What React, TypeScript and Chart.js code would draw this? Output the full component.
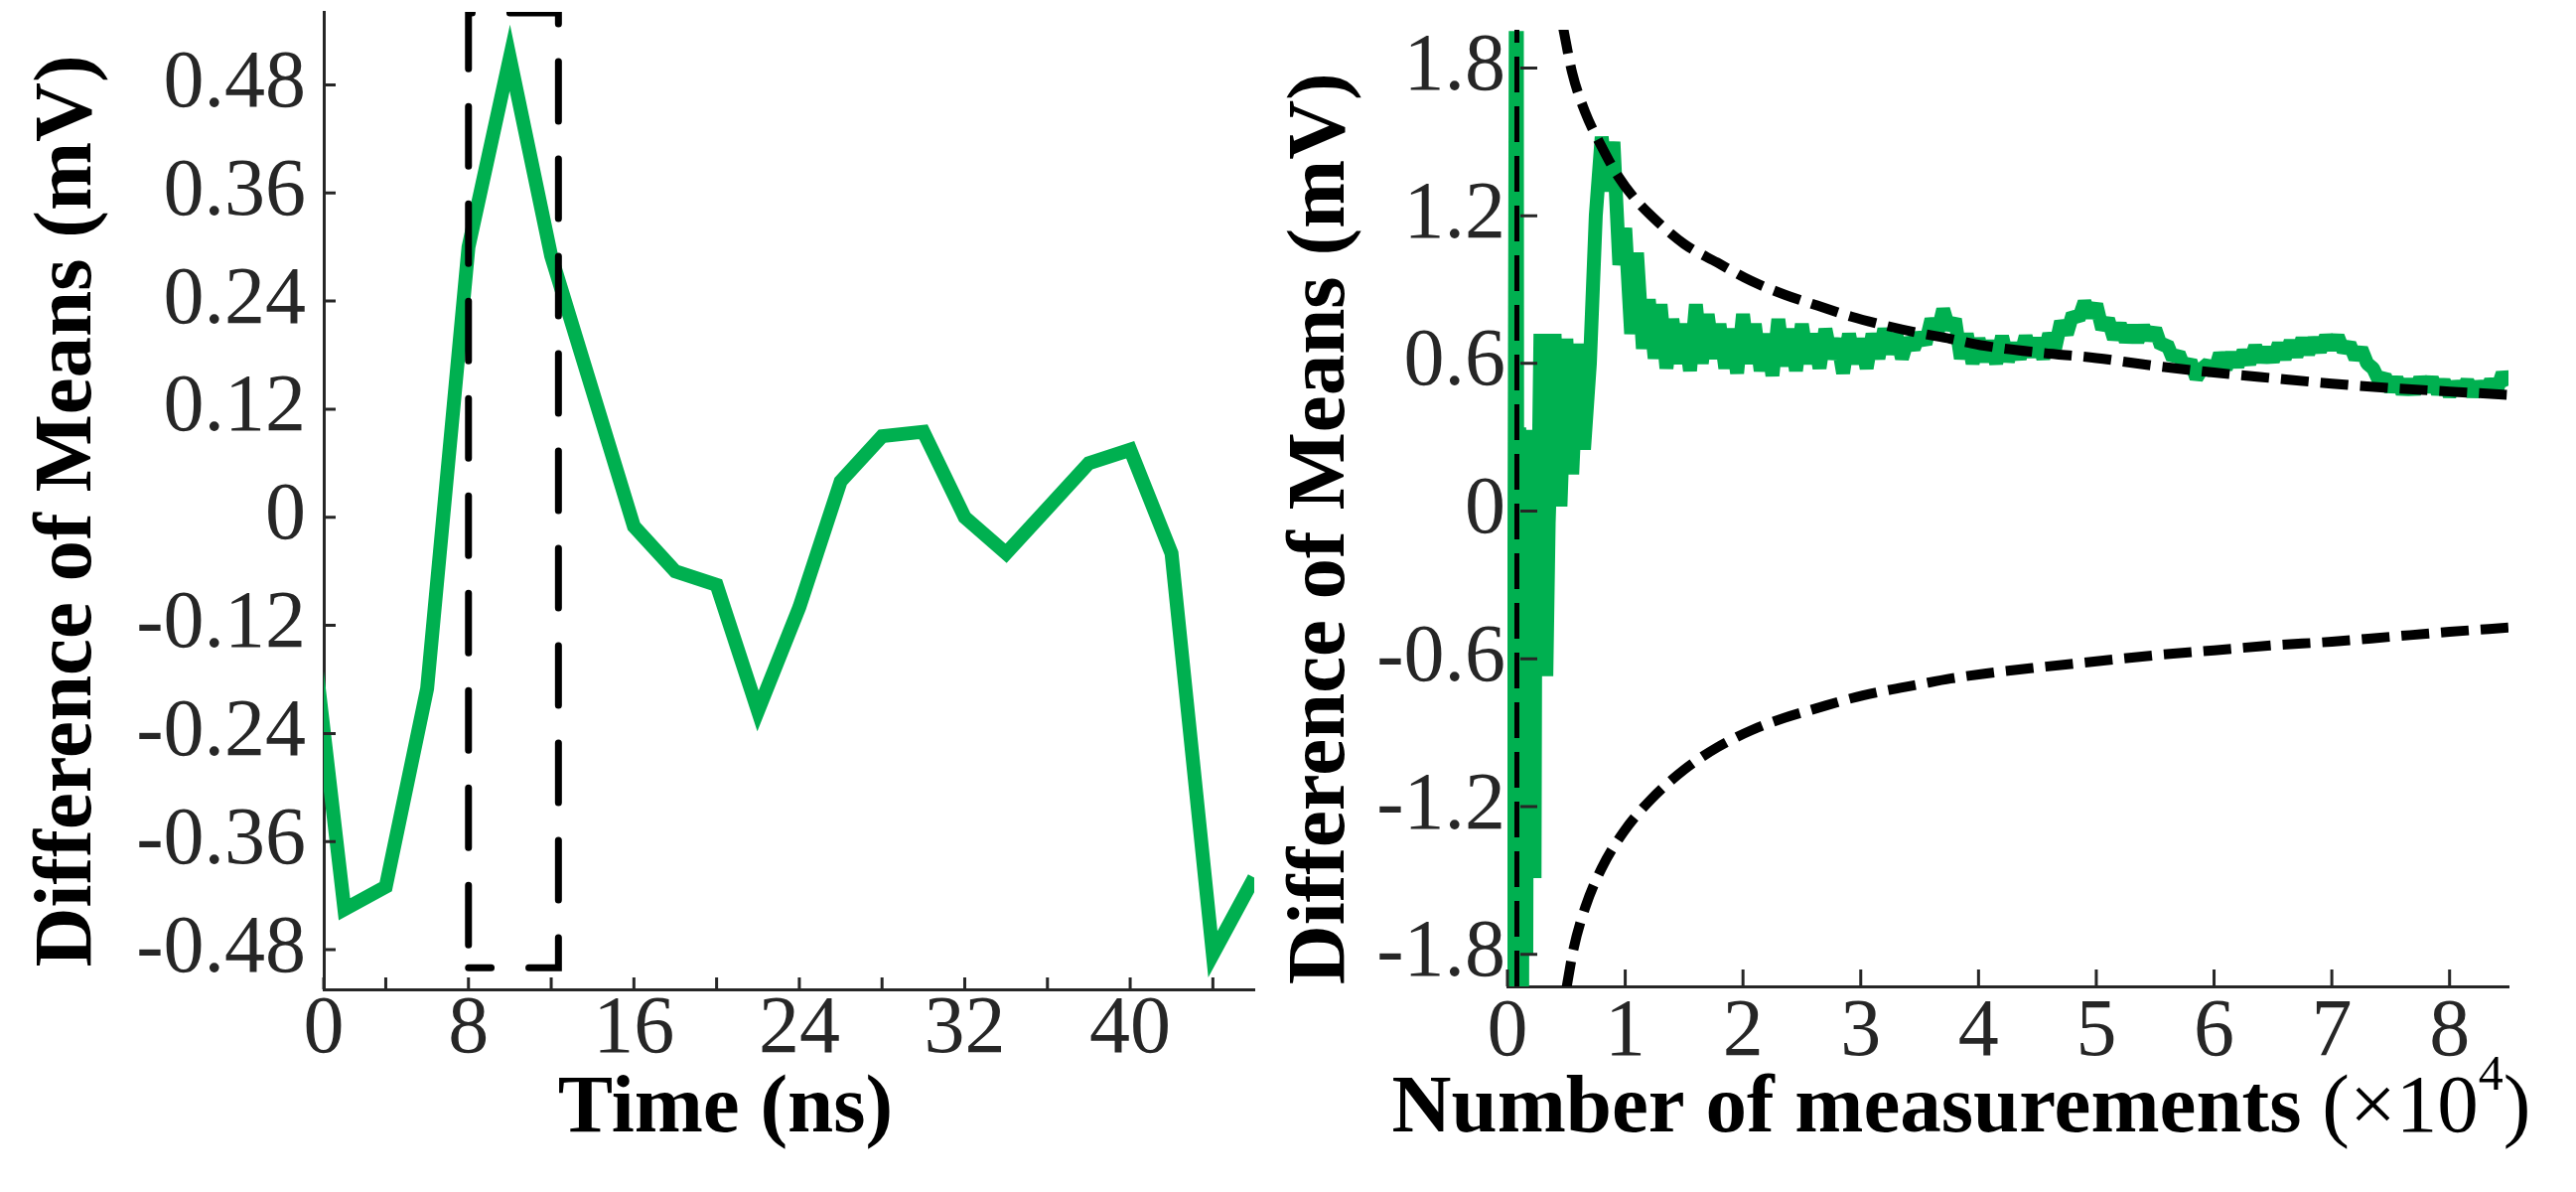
import { useEffect, useRef } from "react";
import { Chart, registerables } from "chart.js";

Chart.register(...registerables);

const SERIF = "'Liberation Serif', 'Times New Roman', Times, serif";
const GREEN = "#00B050";
const AXIS = "#262626";

// ---- left panel: difference of means vs time
const timeNs = [0, 2, 4, 6, 8, 10, 12, 14, 16, 18, 20, 22, 24, 26, 28, 30, 32, 34, 36, 38, 40, 42, 44, 46];
const timeDiff = [
  -0.04, -0.435, -0.41, -0.19, 0.3, 0.51, 0.29, 0.14, -0.01, -0.06, -0.075, -0.215,
  -0.1, 0.04, 0.09, 0.095, 0.0, -0.04, 0.01, 0.06, 0.075, -0.04, -0.485, -0.4,
];
const timeTicks = [1, 4, 8, 12, 16, 20, 24, 28, 32, 36, 40, 44];
const timeTickLabels = ["0", "", "8", "", "16", "", "24", "", "32", "", "40", ""];
const timeDiffTicks = [-0.48, -0.36, -0.24, -0.12, 0, 0.12, 0.24, 0.36, 0.48];
const timeDiffLabels = ["-0.48", "-0.36", "-0.24", "-0.12", "0", "0.12", "0.24", "0.36", "0.48"];
// dashed window around the peak
const windowX = [8, 8, 12.35, 12.35, 8];
const windowY = [-0.5, 0.56, 0.56, -0.5, -0.5];

// ---- right panel: difference of means vs number of measurements (x10^4)
const earlyX = [
  0, 0.05, 0.07, 0.075, 0.08, 0.085, 0.09, 0.1, 0.11, 0.12,
  0.125, 0.13, 0.14, 0.15, 0.16, 0.17, 0.18, 0.2, 0.21, 0.22,
  0.23, 0.24, 0.25, 0.27, 0.28, 0.3, 0.31, 0.33,
];
const earlyY = [
  -1.9, -1.9, 1.95, -1.93, 1.95, -1.93, -0.2, 0.34, -0.45, 0.3,
  -1.93, 0.32, -0.4, 0.33, -1.8, 0.3, -0.45, 0.33, -0.4, 0.32,
  -1.49, 0.3, -0.45, 0.35, 0.72, -0.55, 0.72, -0.67,
];
// sampled every 0.05 from 0.35 to 8.5
const mainStart = 0.35;
const mainStep = 0.05;
const mainY = [
  -0.05, 0.72, 0.02, 0.7, 0.15, 0.68, 0.25, 0.6, 1.2, 1.52,
  1.3, 1.5, 1.0, 1.15, 0.72, 1.05, 0.66, 0.86, 0.62, 0.84,
  0.58, 0.78, 0.6, 0.76, 0.57, 0.84, 0.6, 0.8, 0.62, 0.76,
  0.58, 0.74, 0.56, 0.8, 0.6, 0.76, 0.57, 0.72, 0.55, 0.78,
  0.59, 0.74, 0.57, 0.76, 0.6, 0.72, 0.58, 0.74, 0.62, 0.7,
  0.56, 0.72, 0.6, 0.7, 0.58, 0.72, 0.62, 0.74, 0.64, 0.72,
  0.62, 0.7, 0.66, 0.72, 0.68, 0.78, 0.72, 0.82, 0.74, 0.78,
  0.62, 0.72, 0.6, 0.7, 0.61, 0.69, 0.6, 0.71, 0.61, 0.68,
  0.62, 0.71, 0.63, 0.7, 0.62, 0.72, 0.66, 0.77, 0.72, 0.8,
  0.78, 0.85, 0.79, 0.84, 0.74, 0.78, 0.7, 0.76, 0.69, 0.75,
  0.69, 0.75, 0.7, 0.74, 0.67, 0.68, 0.62, 0.64, 0.58, 0.61,
  0.54, 0.58, 0.6, 0.56, 0.64, 0.58, 0.64, 0.59, 0.65, 0.6,
  0.67, 0.61, 0.66, 0.61, 0.68, 0.62, 0.69, 0.63, 0.7, 0.64,
  0.7, 0.65, 0.71, 0.66, 0.71, 0.65, 0.68, 0.62, 0.66, 0.6,
  0.58, 0.53, 0.55, 0.49, 0.54, 0.48, 0.53, 0.48, 0.54, 0.49,
  0.54, 0.48, 0.53, 0.47, 0.52, 0.48, 0.53, 0.47, 0.52, 0.48,
  0.53, 0.49, 0.56, 0.51,
];
const upperX = [0.47, 0.55, 0.66, 0.8, 0.94, 1.08, 1.22, 1.5, 1.78, 2.07, 2.35, 2.63, 2.92, 3.2, 3.48, 3.76, 4.05, 4.5, 5.0, 5.5, 6.0, 6.5, 7.0, 7.5, 8.0, 8.5];
const upperY = [1.97, 1.78, 1.62, 1.48, 1.36, 1.27, 1.2, 1.085, 1.01, 0.935, 0.88, 0.835, 0.79, 0.755, 0.725, 0.7, 0.672, 0.645, 0.622, 0.59, 0.563, 0.54, 0.518, 0.5, 0.486, 0.472];
const lowerX = [0.5, 0.56, 0.66, 0.8, 0.99, 1.22, 1.5, 1.78, 2.07, 2.35, 2.63, 2.92, 3.2, 3.48, 3.76, 4.05, 4.5, 5.0, 5.5, 6.0, 6.5, 7.0, 7.5, 8.0, 8.5];
const lowerY = [-1.94, -1.78, -1.61, -1.45, -1.3, -1.17, -1.05, -0.96, -0.89, -0.84, -0.8, -0.76, -0.73, -0.705, -0.68, -0.66, -0.635, -0.61, -0.585, -0.565, -0.545, -0.53, -0.51, -0.49, -0.473];
const originX = [0.08, 0.08];
const originY = [-1.93, 1.955];
const countTicks = [0, 1, 2, 3, 4, 5, 6, 7, 8];
const countTickLabels = ["0", "1", "2", "3", "4", "5", "6", "7", "8"];
const countDiffTicks = [-1.8, -1.2, -0.6, 0, 0.6, 1.2, 1.8];
const countDiffLabels = ["-1.8", "-1.2", "-0.6", "0", "0.6", "1.2", "1.8"];

const pts = (xs: number[], ys: number[]) => xs.map((x, i) => ({ x, y: ys[i] }));

// MATLAB-style tick marks pointing into the plot
const makeInwardTicks = (xLen: number, yLen: number, yOffset: number) => ({
  id: "inwardTicks",
  afterDraw(chart: any) {
    const { ctx, chartArea } = chart;
    const xs = chart.scales.x;
    const ys = chart.scales.y;
    ctx.save();
    ctx.strokeStyle = AXIS;
    ctx.lineWidth = 3;
    ctx.beginPath();
    xs.ticks.forEach((t: any) => {
      const px = xs.getPixelForValue(t.value);
      ctx.moveTo(px, chartArea.bottom);
      ctx.lineTo(px, chartArea.bottom - xLen);
    });
    ys.ticks.forEach((t: any) => {
      const py = ys.getPixelForValue(t.value);
      ctx.moveTo(chartArea.left + yOffset, py);
      ctx.lineTo(chartArea.left + yOffset + yLen, py);
    });
    ctx.stroke();
    ctx.restore();
  },
});

// x-axis title drawn as runs so that weights and the superscript can differ
type Run = { text: string; weight: string; size: number; rise?: number };
const makeXTitle = (runs: Run[], shift: number, baseline: number) => ({
  id: "xTitle",
  afterDraw(chart: any) {
    const { ctx, chartArea } = chart;
    ctx.save();
    const widths = runs.map((r) => {
      ctx.font = `${r.weight} ${r.size}px ${SERIF}`;
      return ctx.measureText(r.text).width;
    });
    const total = widths.reduce((a, b) => a + b, 0);
    let x = (chartArea.left + chartArea.right) / 2 + shift - total / 2;
    ctx.fillStyle = "#000";
    ctx.textAlign = "left";
    ctx.textBaseline = "alphabetic";
    runs.forEach((r, i) => {
      ctx.font = `${r.weight} ${r.size}px ${SERIF}`;
      ctx.fillText(r.text, x, baseline - (r.rise || 0));
      x += widths[i];
    });
    ctx.restore();
  },
});

const tickFont = { family: SERIF, size: 82, lineHeight: 1 };
const titleFont = { family: SERIF, size: 83, weight: "bold" as const, lineHeight: 1 };

const labelFrom = (values: number[], labels: string[]) => (v: any) => {
  const i = values.indexOf(Number(v));
  return i >= 0 ? labels[i] : "";
};

// fixed scale sizes, and no extra room for half tick labels
const fixWidth = (w: number) => (s: any) => {
  s.width = w;
  s.paddingTop = 0;
  s.paddingBottom = 0;
};
const fixHeight = (h: number) => (s: any) => {
  s.height = h;
  s.paddingLeft = 0;
  s.paddingRight = 0;
};

const buildTimeChart = (canvas: HTMLCanvasElement) =>
  new Chart(canvas, {
    type: "line",
    data: {
      datasets: [
        {
          data: pts(windowX, windowY),
          borderColor: "#000",
          borderWidth: 7,
          borderDash: [60, 38],
          borderDashOffset: 75,
          borderCapStyle: "round",
          pointRadius: 0,
          tension: 0,
        },
        {
          data: pts(timeNs, timeDiff),
          borderColor: GREEN,
          borderWidth: 14,
          borderJoinStyle: "miter",
          pointRadius: 0,
          tension: 0,
        },
      ],
    },
    options: {
      responsive: false,
      animation: false,
      devicePixelRatio: 1,
      layout: { padding: { left: 0, right: 27, top: 12, bottom: 0 } },
      plugins: { legend: { display: false }, tooltip: { enabled: false } },
      scales: {
        x: {
          type: "linear",
          min: 1,
          max: 46,
          grid: { display: false, drawTicks: false },
          border: { display: true, color: AXIS, width: 3 },
          ticks: {
            autoSkip: false,
            maxRotation: 0,
            padding: 0,
            color: AXIS,
            font: tickFont,
            callback: labelFrom(timeTicks, timeTickLabels),
          },
          afterBuildTicks: (s: any) => {
            s.ticks = timeTicks.map((value) => ({ value }));
          },
          afterFit: fixHeight(204),
        },
        y: {
          type: "linear",
          min: -0.524,
          max: 0.561,
          grid: { display: false, drawTicks: false },
          border: { display: true, color: AXIS, width: 3 },
          ticks: {
            autoSkip: false,
            padding: 18,
            color: AXIS,
            font: tickFont,
            callback: labelFrom(timeDiffTicks, timeDiffLabels),
          },
          title: {
            display: true,
            text: "Difference of Means (mV) ",
            color: "#000",
            font: titleFont,
            padding: { top: 28, bottom: 0 },
          },
          afterBuildTicks: (s: any) => {
            s.ticks = timeDiffTicks.map((value) => ({ value }));
          },
          afterFit: fixWidth(326),
        },
      },
    },
    plugins: [
      makeInwardTicks(12, 12, 0),
      makeXTitle([{ text: "Time (ns)", weight: "bold", size: 83 }], -64, 1139),
    ],
  } as any);

const buildCountChart = (canvas: HTMLCanvasElement) =>
  new Chart(canvas, {
    type: "line",
    data: {
      datasets: [
        {
          data: pts(upperX, upperY),
          borderColor: "#000",
          borderWidth: 10,
          borderDash: [28, 12],
          cubicInterpolationMode: "monotone",
          pointRadius: 0,
        },
        {
          data: pts(lowerX, lowerY),
          borderColor: "#000",
          borderWidth: 10,
          borderDash: [28, 12],
          cubicInterpolationMode: "monotone",
          pointRadius: 0,
        },
        {
          data: pts(originX, originY),
          borderColor: "#000",
          borderWidth: 5,
          borderDash: [36, 14],
          pointRadius: 0,
        },
        {
          data: [
            ...pts(earlyX, earlyY),
            ...mainY.map((y, i) => ({ x: mainStart + i * mainStep, y })),
          ],
          borderColor: GREEN,
          borderWidth: 14,
          borderJoinStyle: "bevel",
          pointRadius: 0,
          tension: 0,
        },
      ],
    },
    options: {
      responsive: false,
      animation: false,
      devicePixelRatio: 1,
      layout: { padding: { left: 0, right: 68, top: 30, bottom: 0 } },
      plugins: { legend: { display: false }, tooltip: { enabled: false } },
      scales: {
        x: {
          type: "linear",
          min: 0,
          max: 8.5,
          grid: { display: false, drawTicks: false },
          border: { display: true, color: AXIS, width: 3 },
          ticks: {
            autoSkip: false,
            maxRotation: 0,
            padding: 6,
            color: AXIS,
            font: tickFont,
            callback: labelFrom(countTicks, countTickLabels),
          },
          afterBuildTicks: (s: any) => {
            s.ticks = countTicks.map((value) => ({ value }));
          },
          afterFit: fixHeight(207),
        },
        y: {
          type: "linear",
          min: -1.93,
          max: 1.955,
          grid: { display: false, drawTicks: false },
          border: { display: false },
          ticks: {
            autoSkip: false,
            padding: 2,
            color: AXIS,
            font: tickFont,
            callback: labelFrom(countDiffTicks, countDiffLabels),
          },
          title: {
            display: true,
            text: "Difference of Means (mV)  ",
            color: "#000",
            font: titleFont,
            padding: { top: 0, bottom: 0 },
          },
          afterBuildTicks: (s: any) => {
            s.ticks = countDiffTicks.map((value) => ({ value }));
          },
          afterFit: fixWidth(228),
        },
      },
    },
    plugins: [
      makeInwardTicks(17, 17, 13),
      makeXTitle(
        [
          { text: "Number of measurements ", weight: "bold", size: 83 },
          { text: "(\u00d710", weight: "normal", size: 83 },
          { text: "4", weight: "normal", size: 50, rise: 42 },
          { text: ")", weight: "normal", size: 83 },
        ],
        -47,
        1139
      ),
    ],
  } as any);

function ChartCanvas({ width, height, build }: { width: number; height: number; build: (c: HTMLCanvasElement) => Chart }) {
  const ref = useRef<HTMLCanvasElement>(null);
  useEffect(() => {
    if (!ref.current) return;
    const chart = build(ref.current);
    return () => chart.destroy();
  }, [build]);
  return <canvas ref={ref} width={width} height={height} style={{ display: "block", width, height }} />;
}

export default function App() {
  useEffect(() => {
    document.body.style.margin = "0";
    document.body.style.overflow = "hidden";
  }, []);
  return (
    <div style={{ display: "flex", width: 2594, height: 1200, background: "#fff" }}>
      <ChartCanvas width={1290} height={1200} build={buildTimeChart} />
      <ChartCanvas width={1304} height={1200} build={buildCountChart} />
    </div>
  );
}
